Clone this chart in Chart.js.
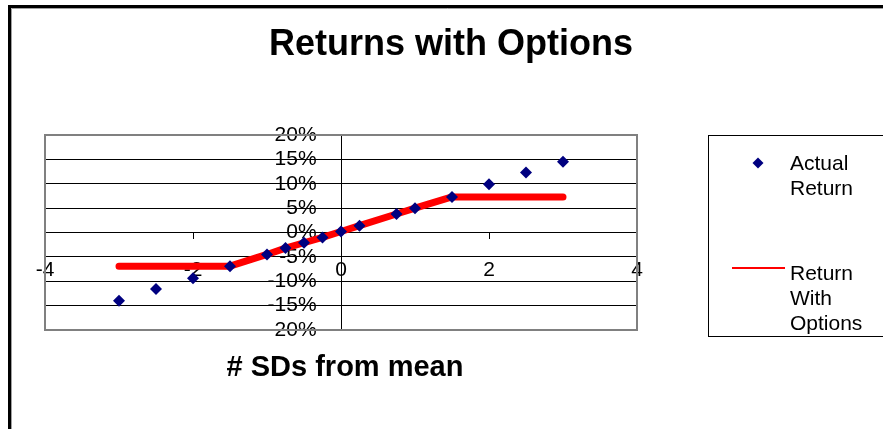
<!DOCTYPE html>
<html lang="en">
<head>
<meta charset="UTF-8">
<title>Returns with Options</title>
<script src="https://cdn.jsdelivr.net/npm/chart.js"></script>
<style>
    html, body {
        margin: 0;
        padding: 0;
        background: #fff;
        overflow: hidden;
    }
    canvas {
        display: block;
    }
</style>
</head>
<body>
<canvas id="optionsChart" width="883" height="429"></canvas>
<script>
    // number of standard deviations from the mean
    const sdSteps = [-3, -2.5, -2, -1.5, -1, -0.75, -0.5, -0.25, 0, 0.25, 0.75, 1, 1.5, 2, 2.5, 3];
    // actual return (%)
    const actualReturn = [-14.0, -11.6, -9.4, -6.9, -4.5, -3.2, -2.1, -1.0, 0.2, 1.4, 3.8, 5.0, 7.3, 9.9, 12.3, 14.5];
    // return with options (%): floor on the left, cap on the right
    const optionsReturn = [-6.9, -6.9, -6.9, -6.9, -4.5, -3.2, -2.1, -1.0, 0.2, 1.4, 3.8, 5.0, 7.3, 7.3, 7.3, 7.3];

    const xTicks = [-4, -2, 0, 2, 4];
    const yTicks = [-20, -15, -10, -5, 0, 5, 10, 15, 20];
    const seriesNames = [['Actual', 'Return'], ['Return', 'With', 'Options']];
    const chartTitle = 'Returns with Options';
    const xTitle = '# SDs from mean';

    const FONT = '"Liberation Sans", Arial, sans-serif';

    const pairs = (xs, ys) => xs.map((x, i) => ({ x: x, y: ys[i] }));
    const setTicks = list => axis => { axis.ticks = list.map(v => ({ value: v })); };

    // background, frame, plot border, titles and the boxed legend
    const decor = {
        id: 'decor',
        beforeDraw(chart) {
            const ctx = chart.ctx;
            ctx.save();
            ctx.fillStyle = '#fff';
            ctx.fillRect(0, 0, chart.width, chart.height);
            ctx.strokeStyle = '#000';
            ctx.lineWidth = 3;
            ctx.beginPath();
            ctx.moveTo(9.5, chart.height);
            ctx.lineTo(9.5, 6.5);
            ctx.lineTo(chart.width, 6.5);
            ctx.stroke();
            ctx.strokeStyle = '#a0a0a0';
            ctx.lineWidth = 1;
            ctx.beginPath();
            ctx.moveTo(11.5, chart.height);
            ctx.lineTo(11.5, 8.5);
            ctx.lineTo(chart.width, 8.5);
            ctx.stroke();
            ctx.restore();
        },
        beforeDatasetsDraw(chart) {
            const { ctx, chartArea: a } = chart;
            ctx.save();
            ctx.strokeStyle = '#808080';
            ctx.lineWidth = 2;
            ctx.strokeRect(a.left, a.top, a.right - a.left, a.bottom - a.top);
            ctx.restore();
        },
        afterDraw(chart) {
            const ctx = chart.ctx;
            const a = chart.chartArea;
            const ds = chart.data.datasets;
            ctx.save();
            ctx.fillStyle = '#000';
            ctx.textBaseline = 'alphabetic';
            ctx.textAlign = 'center';

            ctx.font = 'bold 36px ' + FONT;
            ctx.fillText(chartTitle, 451, 55);

            ctx.font = 'bold 29px ' + FONT;
            ctx.fillText(xTitle, (a.left + a.right) / 2 + 4, 376);

            // legend
            ctx.strokeStyle = '#000';
            ctx.lineWidth = 1;
            ctx.strokeRect(708.5, 135.5, 200, 201);

            ctx.fillStyle = ds[0].backgroundColor;
            Chart.helpers.drawPoint(ctx, { pointStyle: 'rectRot', radius: 5.5, rotation: 0, borderWidth: 0 }, 758, 163);

            ctx.strokeStyle = ds[1].borderColor;
            ctx.lineWidth = 2;
            ctx.beginPath();
            ctx.moveTo(732, 268);
            ctx.lineTo(785, 268);
            ctx.stroke();

            ctx.fillStyle = '#000';
            ctx.textAlign = 'left';
            ctx.font = '21px ' + FONT;
            seriesNames[0].forEach((t, i) => ctx.fillText(t, 790, 170 + i * 25));
            seriesNames[1].forEach((t, i) => ctx.fillText(t, 790, 280 + i * 25));
            ctx.restore();
        }
    };

    const tickFont = { family: FONT, size: 21 };

    new Chart(document.getElementById('optionsChart'), {
        type: 'scatter',
        data: {
            datasets: [{
                label: seriesNames[0].join(' '),
                data: pairs(sdSteps, actualReturn),
                backgroundColor: '#000080',
                borderColor: '#000080',
                pointStyle: 'rectRot',
                pointRadius: 6,
                pointBorderWidth: 0,
                showLine: false
            }, {
                label: seriesNames[1].join(' '),
                data: pairs(sdSteps, optionsReturn),
                borderColor: '#ff0000',
                backgroundColor: '#ff0000',
                borderWidth: 7,
                borderCapStyle: 'round',
                borderJoinStyle: 'round',
                pointRadius: 0,
                showLine: true
            }]
        },
        options: {
            responsive: false,
            animation: false,
            events: [],
            layout: { padding: { left: 45, top: 135, right: 246, bottom: 99 } },
            plugins: {
                legend: { display: false },
                title: { display: false },
                tooltip: { enabled: false }
            },
            scales: {
                x: {
                    type: 'linear',
                    min: -4,
                    max: 4,
                    position: { y: 0 },
                    afterBuildTicks: setTicks(xTicks),
                    grid: { drawOnChartArea: false, drawTicks: true, tickLength: 6, color: '#000' },
                    border: { color: '#000', width: 1 },
                    ticks: { display: false }
                },
                y: {
                    type: 'linear',
                    min: -20,
                    max: 20,
                    position: { x: 0 },
                    afterBuildTicks: setTicks(yTicks),
                    grid: { color: '#000', lineWidth: 1, tickLength: 7 },
                    border: { color: '#000', width: 1 },
                    ticks: { display: false }
                },
                // label-only axes drawn above the data, as in the original
                xLabels: {
                    type: 'linear',
                    axis: 'x',
                    min: -4,
                    max: 4,
                    z: 1,
                    position: { y: 0 },
                    afterBuildTicks: setTicks(xTicks),
                    grid: { display: false, drawTicks: false },
                    border: { display: false },
                    ticks: { color: '#000', font: tickFont, padding: 25, maxRotation: 0, autoSkip: false }
                },
                yLabels: {
                    type: 'linear',
                    axis: 'y',
                    min: -20,
                    max: 20,
                    z: 1,
                    position: { x: -0.33 },
                    afterBuildTicks: setTicks(yTicks),
                    grid: { display: false, drawTicks: false },
                    border: { display: false },
                    ticks: { color: '#000', font: tickFont, autoSkip: false, callback: v => v + '%' }
                }
            }
        },
        plugins: [decor]
    });
</script>
</body>
</html>
